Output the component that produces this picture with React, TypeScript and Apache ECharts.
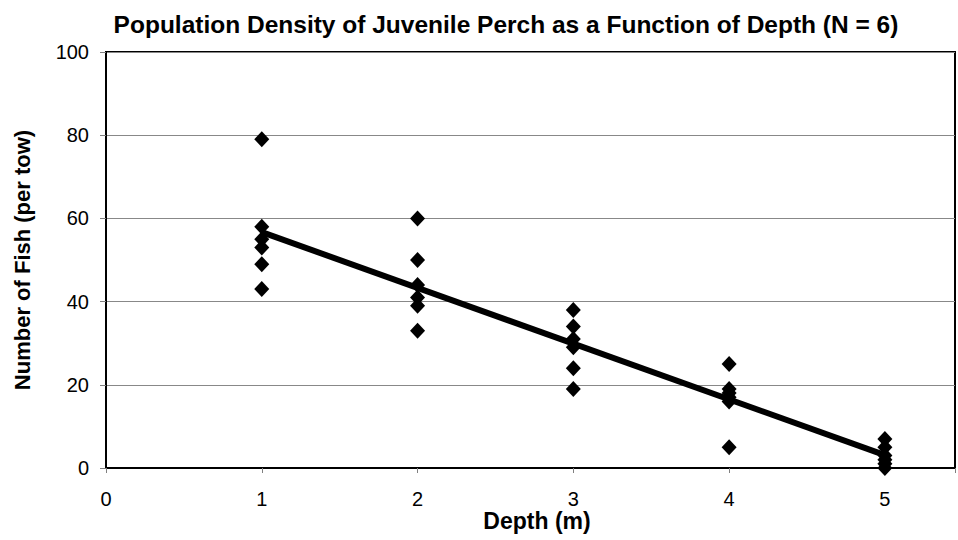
import React, { useEffect, useRef } from "react";
import * as echarts from "echarts";

const depths = [1, 2, 3, 4, 5];
const fishAtDepth1 = [79, 58, 55, 53, 49, 43];
const fishAtDepth2 = [60, 50, 44, 41, 39, 33];
const fishAtDepth3 = [38, 34, 31, 29, 24, 19];
const fishAtDepth4 = [25, 19, 18, 17, 16, 5];
const fishAtDepth5 = [7, 5, 3, 2, 1, 0];
const trendX = [1, 5];
const trendY = [56.7, 3.1];

const FONT = "'Liberation Sans', Arial, sans-serif";

export default function App() {
  const ref = useRef<HTMLDivElement>(null);
  useEffect(() => {
    document.body.style.margin = "0";
    document.body.style.overflow = "hidden";
    if (!ref.current) return;
    const chart = echarts.init(ref.current, undefined, { renderer: "svg" });
    const groups = [fishAtDepth1, fishAtDepth2, fishAtDepth3, fishAtDepth4, fishAtDepth5];
    const points: number[][] = [];
    groups.forEach((g, i) => g.forEach((v) => points.push([depths[i], v])));
    const trend = trendX.map((x, i) => [x, trendY[i]]);
    chart.setOption({
      animation: false,
      backgroundColor: "#ffffff",
      textStyle: { fontFamily: FONT },
      title: {
        text: "Population Density of Juvenile Perch as a Function of Depth (N = 6)",
        left: 501,
        textAlign: "center",
        top: 7,
        textStyle: { fontSize: 24.5, fontWeight: "bold", color: "#000", fontFamily: FONT },
      },
      grid: {
        left: 106,
        top: 52,
        right: 0,
        bottom: 72,
        show: true,
        borderColor: "#000",
        borderWidth: 2,
        backgroundColor: "transparent",
      },
      xAxis: {
        type: "value",
        min: 0,
        max: 5.45,
        interval: 1,
        axisLine: { show: true, lineStyle: { color: "#000", width: 2 } },
        axisTick: { show: true, length: 5, lineStyle: { color: "#808080", width: 1 } },
        axisLabel: {
          margin: 21,
          fontSize: 20,
          color: "#000",
          fontFamily: FONT,
          formatter: (v: number) => (Number.isInteger(v) ? String(v) : ""),
        },
        splitLine: { show: false },
      },
      yAxis: {
        type: "value",
        min: 0,
        max: 100,
        interval: 20,
        name: "Number of Fish (per tow)",
        nameLocation: "middle",
        nameGap: 73,
        nameTextStyle: { fontSize: 22, fontWeight: "bold", color: "#000", fontFamily: FONT },
        axisLine: { show: true, lineStyle: { color: "#000", width: 2 } },
        axisTick: { show: true, length: 6, lineStyle: { color: "#808080", width: 1 } },
        axisLabel: { margin: 17, fontSize: 20, color: "#000", fontFamily: FONT },
        splitLine: { show: true, lineStyle: { color: "#888", width: 1 } },
      },
      graphic: [
        {
          type: "text",
          x: 537,
          y: 521,
          style: {
            text: "Depth (m)",
            fill: "#000",
            font: `bold 23px ${FONT}`,
            textAlign: "center",
            textVerticalAlign: "middle",
          },
        },
      ],
      series: [
        {
          type: "scatter",
          data: points,
          symbol: "diamond",
          symbolSize: [15, 16],
          itemStyle: { color: "#000", opacity: 1 },
          z: 2,
        },
        {
          type: "line",
          data: trend,
          showSymbol: false,
          symbol: "none",
          lineStyle: { color: "#000", width: 6 },
          z: 3,
        },
      ],
    });
    return () => chart.dispose();
  }, []);
  return <div ref={ref} style={{ width: 958, height: 540 }} />;
}
